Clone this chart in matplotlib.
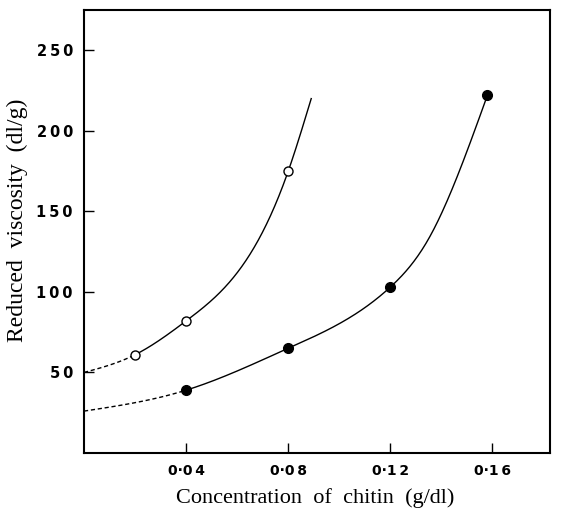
import matplotlib.pyplot as plt
import numpy as np

# measured points
conc_open = [0.02, 0.04, 0.08]
visc_open = [61, 82, 175]
conc_filled = [0.04, 0.08, 0.12, 0.158]
visc_filled = [39, 65, 103, 222]

# hand-drawn curves, anchors
curve_open_x = [0.0, 0.02, 0.04, 0.08, 0.089]
curve_open_y = [50, 61, 82, 175, 220]
curve_filled_x = [0.0, 0.04, 0.08, 0.12, 0.135, 0.158]
curve_filled_y = [26, 39, 65, 103, 133, 222]

xticks = [0.04, 0.08, 0.12, 0.16]
xticklabels = ["0\u00b70\u20094", "0\u00b70\u20098", "0\u00b71\u20092", "0\u00b71\u20096"]
yticks = [50, 100, 150, 200, 250]
yticklabels = ["5\u20090", "1\u20090\u20090", "1\u20095\u20090", "2\u20090\u20090", "2\u20095\u20090"]


def smooth(xs, ys):
    # natural cubic spline through the anchors, only for drawing the curve
    xs = np.asarray(xs, float)
    ys = np.asarray(ys, float)
    n = len(xs)
    h = np.diff(xs)
    A = np.zeros((n, n))
    b = np.zeros(n)
    A[0, 0] = A[-1, -1] = 1
    for i in range(1, n - 1):
        A[i, i - 1] = h[i - 1]
        A[i, i] = 2 * (h[i - 1] + h[i])
        A[i, i + 1] = h[i]
        b[i] = 6 * ((ys[i + 1] - ys[i]) / h[i] - (ys[i] - ys[i - 1]) / h[i - 1])
    M = np.linalg.solve(A, b)

    def f(x):
        i = np.clip(np.searchsorted(xs, x) - 1, 0, n - 2)
        hi = h[i]
        a = xs[i + 1] - x
        c = x - xs[i]
        return (M[i] * a**3 / (6 * hi) + M[i + 1] * c**3 / (6 * hi)
                + (ys[i] / hi - M[i] * hi / 6) * a + (ys[i + 1] / hi - M[i + 1] * hi / 6) * c)
    return f


fig = plt.figure(figsize=(5.62, 5.13), dpi=100)
ax = fig.add_axes([0.1495, 0.117, 0.829, 0.8635])

f_open = smooth(curve_open_x, curve_open_y)
f_fill = smooth(curve_filled_x, curve_filled_y)

x = np.linspace(curve_open_x[0], conc_open[0], 50)
ax.plot(x, f_open(x), color="black", lw=1, ls=(0, (3, 2)))
x = np.linspace(conc_open[0], curve_open_x[-1], 300)
ax.plot(x, f_open(x), color="black", lw=1)

x = np.linspace(curve_filled_x[0], conc_filled[0], 50)
ax.plot(x, f_fill(x), color="black", lw=1, ls=(0, (3, 2)))
x = np.linspace(conc_filled[0], curve_filled_x[-1], 300)
ax.plot(x, f_fill(x), color="black", lw=1)

ax.plot(conc_open, visc_open, "o", ms=6.5, mfc="white", mec="black", mew=1, zorder=3)
ax.plot(conc_filled, visc_filled, "o", ms=7, mfc="black", mec="black", zorder=3)

ax.set_xlim(0, 0.1825)
ax.set_ylim(0, 275)
ax.set_xticks(xticks)
ax.set_xticklabels(xticklabels, fontweight="bold", fontsize=10)
ax.set_yticks(yticks)
ax.set_yticklabels(yticklabels, fontweight="bold", fontsize=10.5)
ax.tick_params(direction="in", length=7, width=1, pad=8)
for s in ax.spines.values():
    s.set_linewidth(1.5)

ax.set_xlabel("Concentration  of  chitin  (g/dl)", family="Liberation Serif", fontsize=16)
ax.set_ylabel("Reduced  viscosity  (dl/g)", family="Liberation Serif", fontsize=17)
ax.xaxis.set_label_coords(0.496, -0.08)
ax.yaxis.set_label_coords(-0.12, 0.526)

fig.savefig("out.png", dpi=100)
